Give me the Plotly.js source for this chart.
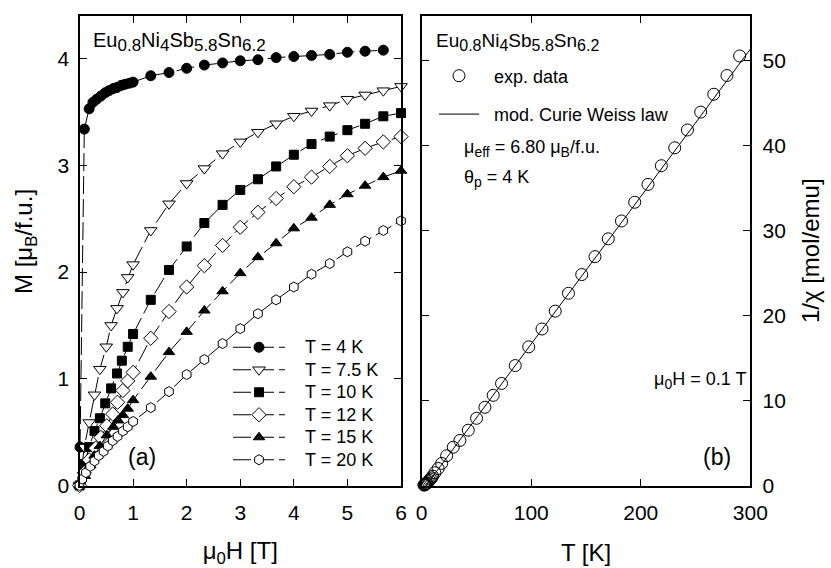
<!DOCTYPE html>
<html>
<head>
<meta charset="utf-8">
<script src="https://cdn.plot.ly/plotly-3.0.1.min.js"></script>
<style>
  html, body { margin: 0; padding: 0; background: #fff; }
  #chart { width: 831px; height: 568px; }
</style>
</head>
<body>
<div id="chart"></div>
<script>
// Panel (a): magnetisation isotherms M(μ0H)
const H_4K   = [0.01, 0.09, 0.18, 0.25, 0.32, 0.40, 0.48, 0.55, 0.63, 0.70, 0.78, 0.85, 0.93, 1.00, 1.33, 1.67, 2.00, 2.33, 2.67, 3.00, 3.33, 3.67, 4.00, 4.33, 4.67, 5.00, 5.33, 5.67];
const M_4K   = [0.36, 3.34, 3.53, 3.59, 3.62, 3.65, 3.68, 3.70, 3.72, 3.73, 3.75, 3.76, 3.77, 3.78, 3.84, 3.87, 3.91, 3.94, 3.96, 3.98, 3.99, 4.01, 4.02, 4.03, 4.04, 4.06, 4.07, 4.08];

const H_7p5K = [0, 0.09, 0.18, 0.28, 0.38, 0.50, 0.59, 0.70, 0.81, 0.90, 1.00, 1.33, 1.67, 2.00, 2.33, 2.67, 3.00, 3.33, 3.67, 4.00, 4.33, 4.67, 5.00, 5.33, 5.67, 6.00];
const M_7p5K = [0, 0.36, 0.59, 0.85, 1.09, 1.30, 1.50, 1.66, 1.81, 1.95, 2.07, 2.39, 2.64, 2.83, 2.97, 3.11, 3.22, 3.31, 3.39, 3.46, 3.51, 3.56, 3.62, 3.66, 3.70, 3.74];

const H_10K  = [0, 0.09, 0.18, 0.28, 0.38, 0.48, 0.59, 0.70, 0.79, 0.90, 1.00, 1.33, 1.67, 2.00, 2.33, 2.67, 3.00, 3.33, 3.67, 4.00, 4.33, 4.67, 5.00, 5.33, 5.67, 6.00];
const M_10K  = [0, 0.20, 0.36, 0.51, 0.63, 0.77, 0.91, 1.05, 1.17, 1.30, 1.42, 1.74, 2.02, 2.24, 2.46, 2.63, 2.77, 2.87, 2.99, 3.10, 3.20, 3.27, 3.33, 3.39, 3.46, 3.49];

const H_12K  = [0, 0.09, 0.18, 0.30, 0.40, 0.51, 0.62, 0.71, 0.81, 0.90, 1.00, 1.33, 1.67, 2.00, 2.33, 2.67, 3.00, 3.33, 3.67, 4.00, 4.33, 4.67, 5.00, 5.33, 5.67, 6.00];
const M_12K  = [0, 0.12, 0.24, 0.35, 0.45, 0.56, 0.67, 0.78, 0.89, 0.98, 1.06, 1.38, 1.63, 1.86, 2.06, 2.25, 2.42, 2.56, 2.69, 2.80, 2.89, 2.99, 3.09, 3.16, 3.22, 3.27];

const H_15K  = [0, 0.10, 0.20, 0.28, 0.38, 0.51, 0.63, 0.72, 0.81, 0.90, 1.00, 1.33, 1.67, 2.00, 2.33, 2.67, 3.00, 3.33, 3.67, 4.00, 4.33, 4.67, 5.00, 5.33, 5.67, 6.00];
const M_15K  = [0, 0.09, 0.19, 0.28, 0.37, 0.47, 0.55, 0.61, 0.66, 0.72, 0.80, 1.02, 1.25, 1.44, 1.64, 1.82, 1.99, 2.14, 2.27, 2.41, 2.51, 2.63, 2.73, 2.81, 2.89, 2.95];

const H_20K  = [0, 0.05, 0.12, 0.20, 0.28, 0.36, 0.45, 0.53, 0.62, 0.71, 0.81, 0.90, 1.00, 1.33, 1.67, 2.00, 2.33, 2.67, 3.00, 3.33, 3.67, 4.00, 4.33, 4.67, 5.00, 5.33, 5.67, 6.00];
const M_20K  = [0, 0.06, 0.12, 0.18, 0.23, 0.28, 0.32, 0.37, 0.42, 0.46, 0.51, 0.55, 0.60, 0.73, 0.88, 1.04, 1.18, 1.33, 1.47, 1.61, 1.74, 1.86, 1.98, 2.08, 2.19, 2.29, 2.39, 2.48];

const seriesNames = ['T = 4 K', 'T = 7.5 K', 'T = 10 K', 'T = 12 K', 'T = 15 K', 'T = 20 K'];

// Panel (b): inverse susceptibility in μ0H = 0.1 T
const T_exp   = [290.3, 278.7, 266.6, 254.7, 242.6, 231.0, 218.8, 206.6, 194.5, 182.4, 170.3, 158.2, 146.1, 134.0, 121.9, 109.8, 97.7, 85.4, 72.9, 65.3, 57.7, 50.1, 42.5, 34.9, 28.8, 22.8, 18.2, 15.0, 12.0, 10.0, 9.0, 8.0, 7.0, 6.0, 5.0, 4.5, 4.0, 3.5, 3.0, 2.5, 2.0];
const inv_exp = [50.5, 48.2, 46.0, 43.9, 41.8, 39.7, 37.6, 35.4, 33.3, 31.1, 29.0, 26.9, 24.8, 22.6, 20.5, 18.4, 16.3, 14.1, 12.0, 10.6, 9.2, 7.9, 6.5, 5.3, 4.5, 3.5, 2.6, 2.0, 1.5, 1.1, 0.9, 0.75, 0.6, 0.45, 0.3, 0.25, 0.2, 0.15, 0.1, 0.08, 0.05];
const T_fit   = [4, 300];
const inv_fit = [0, 51.3];

const FONT = 'Liberation Sans, Arial, Helvetica, sans-serif';
const DASH = '18px,5px';
const NB = '\u00a0';

// legend labels are drawn a little larger than the legend's own row height
const big = (s, px) => '<span style="font-size:' + px + 'px">' + s + '</span>';
// formula with subscripts kept close to the body size
const formula = (main, sub) =>
  big('Eu', main) + '<sub>' + big('0.8', sub) + '</sub>' +
  big('Ni', main) + '<sub>' + big('4', sub) + '</sub>' +
  big('Sb', main) + '<sub>' + big('5.8', sub) + '</sub>' +
  big('Sn', main) + '<sub>' + big('6.2', sub) + '</sub>';

function isotherm(x, y, name, symbol, fill, size) {
  return {
    x: x, y: y, name: big(NB + NB + NB + name, 18),
    type: 'scatter', mode: 'lines+markers',
    xaxis: 'x', yaxis: 'y', legend: 'legend',
    line: { color: '#000', width: 1, dash: DASH },
    marker: { symbol: symbol, size: size, color: fill, line: { color: '#000', width: 1 } },
    cliponaxis: false
  };
}

const traces = [
  isotherm(H_4K,   M_4K,   seriesNames[0], 'circle',        '#000', 10),
  isotherm(H_7p5K, M_7p5K, seriesNames[1], 'triangle-down', '#fff', 11),
  isotherm(H_10K,  M_10K,  seriesNames[2], 'square',        '#000', 9),
  isotherm(H_12K,  M_12K,  seriesNames[3], 'diamond',       '#fff', 11),
  isotherm(H_15K,  M_15K,  seriesNames[4], 'triangle-up',   '#000', 10),
  isotherm(H_20K,  M_20K,  seriesNames[5], 'hexagon',       '#fff', 10),
  {
    x: T_exp, y: inv_exp, name: NB + NB + 'exp. data',
    type: 'scatter', mode: 'markers', xaxis: 'x2', yaxis: 'y2',
    legend: 'legend2', legendgroup: 'exp',
    marker: { symbol: 'circle-open', size: 12, color: '#000', line: { color: '#000', width: 1 } },
    cliponaxis: false
  },
  {
    x: T_fit, y: inv_fit, name: NB + NB + 'mod. Curie Weiss law',
    type: 'scatter', mode: 'lines', xaxis: 'x2', yaxis: 'y2',
    legend: 'legend2', legendgroup: 'fit',
    line: { color: '#000', width: 1 }
  }
];

const axisBase = {
  showgrid: false, zeroline: false, showline: true, linecolor: '#000', linewidth: 2,
  ticks: 'inside', ticklen: 7, tickwidth: 1, tickcolor: '#000', mirror: 'ticks',
  tickfont: { family: FONT, size: 21, color: '#000' }, automargin: false
};
const titleFont = { family: FONT, size: 24, color: '#000' };

const layout = {
  width: 831, height: 568,
  margin: { l: 0, r: 0, t: 0, b: 0 },
  paper_bgcolor: '#fff', plot_bgcolor: '#fff',
  font: { family: FONT, color: '#000' },
  xaxis: Object.assign({}, axisBase, {
    domain: [79.5 / 831, 401 / 831], range: [0, 6], dtick: 1, anchor: 'y', ticklabelstandoff: 7,
    title: { text: 'μ<sub>0</sub>H [T]', font: titleFont, standoff: 21 }
  }),
  yaxis: Object.assign({}, axisBase, {
    domain: [82.5 / 568, 552 / 568], range: [0, 4.4], dtick: 1, anchor: 'x', ticklabelstandoff: 4
  }),
  xaxis2: Object.assign({}, axisBase, {
    domain: [421.7 / 831, 750.3 / 831], range: [0, 300], dtick: 100, anchor: 'y2', ticklabelstandoff: 7,
    title: { text: 'T [K]', font: titleFont, standoff: 21 }
  }),
  yaxis2: Object.assign({}, axisBase, {
    domain: [82.5 / 568, 552 / 568], range: [0, 55.2], dtick: 10, anchor: 'x2', side: 'right',
    ticklabelstandoff: 6,
    title: { text: '1/χ [mol/emu]', font: titleFont, standoff: 17 }
  }),
  legend: {
    x: 228 / 831, y: 1 - 331 / 568, xanchor: 'left', yanchor: 'top',
    bgcolor: 'rgba(0,0,0,0)', borderwidth: 0, itemwidth: 52,
    font: { family: FONT, size: 15, color: '#000' }, tracegroupgap: 0, traceorder: 'normal'
  },
  legend2: {
    x: 434 / 831, y: 1 - 57.5 / 568, xanchor: 'left', yanchor: 'top',
    bgcolor: 'rgba(0,0,0,0)', borderwidth: 0, itemwidth: 40,
    font: { family: FONT, size: 18, color: '#000' }, tracegroupgap: 12, traceorder: 'grouped'
  },
  showlegend: true,
  annotations: [
    // left axis title, placed beside the tick labels of panel (a)
    { xref: 'paper', yref: 'paper', x: 25 / 831, y: 1 - 242 / 568, xanchor: 'center', yanchor: 'middle',
      textangle: -90, text: 'M [μ<sub>B</sub>/f.u.]', showarrow: false, font: titleFont },
    { xref: 'paper', yref: 'paper', x: 91 / 831, y: 1 - 42 / 568, xanchor: 'left', yanchor: 'middle',
      text: formula(20, 17), showarrow: false, font: { family: FONT, size: 20, color: '#000' } },
    { xref: 'paper', yref: 'paper', x: 142 / 831, y: 1 - 457 / 568, xanchor: 'center', yanchor: 'middle',
      text: '(a)', showarrow: false, font: { family: FONT, size: 23, color: '#000' } },
    { xref: 'paper', yref: 'paper', x: 434 / 831, y: 1 - 42 / 568, xanchor: 'left', yanchor: 'middle',
      text: formula(19, 16), showarrow: false, font: { family: FONT, size: 19, color: '#000' } },
    { xref: 'paper', yref: 'paper', x: 462 / 831, y: 1 - 149 / 568, xanchor: 'left', yanchor: 'middle',
      text: 'μ<sub>' + big('eff', 14) + '</sub> = 6.80 μ<sub>' + big('B', 14) + '</sub>/f.u.', showarrow: false,
      font: { family: FONT, size: 18, color: '#000' } },
    { xref: 'paper', yref: 'paper', x: 462 / 831, y: 1 - 178 / 568, xanchor: 'left', yanchor: 'middle',
      text: 'θ<sub>' + big('p', 14) + '</sub> = 4 K', showarrow: false,
      font: { family: FONT, size: 18, color: '#000' } },
    { xref: 'paper', yref: 'paper', x: 700 / 831, y: 1 - 380 / 568, xanchor: 'center', yanchor: 'middle',
      text: 'μ<sub>' + big('0', 14) + '</sub>H = 0.1 T', showarrow: false,
      font: { family: FONT, size: 18, color: '#000' } },
    { xref: 'paper', yref: 'paper', x: 717 / 831, y: 1 - 457 / 568, xanchor: 'center', yanchor: 'middle',
      text: '(b)', showarrow: false, font: { family: FONT, size: 23, color: '#000' } }
  ]
};

Plotly.newPlot('chart', traces, layout, { staticPlot: true, displayModeBar: false });
</script>
</body>
</html>
